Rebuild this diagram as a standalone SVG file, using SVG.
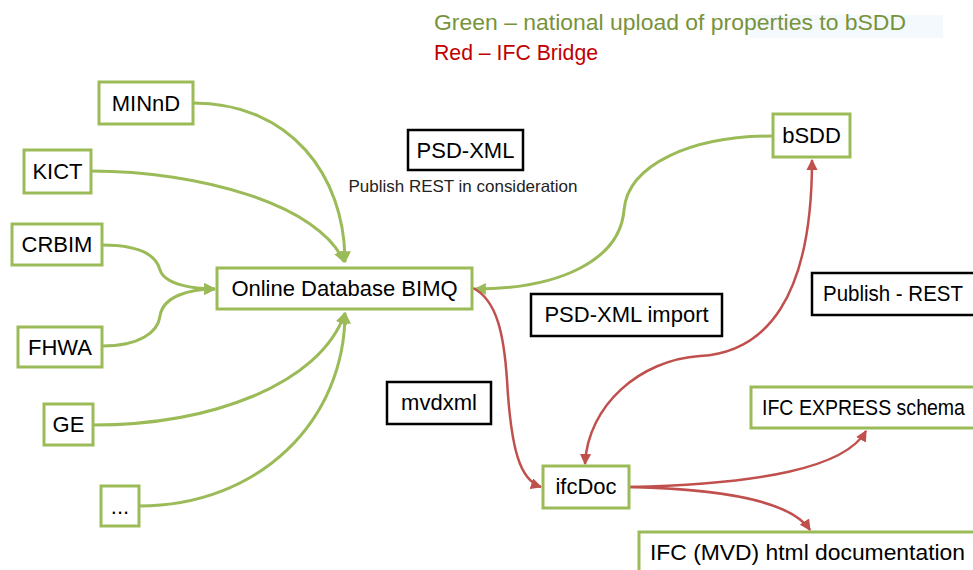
<svg xmlns="http://www.w3.org/2000/svg" width="973" height="570" viewBox="0 0 973 570">
<style>
.g{fill:#fff;stroke:#9BBB59;stroke-width:3}
.k{fill:#fff;stroke:#000;stroke-width:2.5}
.t{font-family:"Liberation Sans",Arial,sans-serif;font-size:22px;fill:#000}
.c{text-anchor:middle}
.cg{fill:none;stroke:#9BBB59;stroke-width:3}
.cr{fill:none;stroke:#C0504D;stroke-width:2.5}
</style>
<defs>
<marker id="ag" viewBox="0 0 10 10" refX="9" refY="5" markerWidth="4" markerHeight="4" orient="auto-start-reverse"><path d="M0,0L10,5L0,10z" fill="#9BBB59"/></marker>
<marker id="ar" viewBox="0 0 10 10" refX="9" refY="5" markerWidth="4.5" markerHeight="4.5" orient="auto-start-reverse"><path d="M0,0L10,5L0,10z" fill="#C0504D"/></marker>
</defs>
<rect width="973" height="570" fill="#fff"/>
<rect x="750" y="15" width="193" height="23" fill="#f4f9fd"/>
<g id="legend" font-family="'Liberation Sans',Arial,sans-serif" font-size="22">
<text x="434" y="30" fill="#77933C" textLength="472" lengthAdjust="spacingAndGlyphs">Green – national upload of properties to bSDD</text>
<text x="434" y="60" fill="#C00000" textLength="164" lengthAdjust="spacingAndGlyphs">Red – IFC Bridge</text>
</g>
<g id="connectors">
<path class="cg" d="M193,103 C290,103 345,175 345,262" marker-end="url(#ag)"/>
<path class="cg" d="M91,171 C200,171 320,205 344,262" marker-end="url(#ag)"/>
<path class="cg" d="M102,245 C145,245 157,258 160,270 C165,285 195,289 215,289" marker-end="url(#ag)"/>
<path class="cg" d="M102,346 C140,346 158,332 160,316 C163,296 190,289 215,289" marker-end="url(#ag)"/>
<path class="cg" d="M93,425 C210,425 320,385 345,313" marker-end="url(#ag)"/>
<path class="cg" d="M139,506 C260,506 345,420 345,313" marker-end="url(#ag)"/>
<path class="cg" d="M773,136 C690,136 628,165 624,210 C620,260 560,289 475,289" marker-end="url(#ag)"/>
<path class="cr" d="M473,288 C497,300 504,335 507,380 C511,450 520,480 541,487" marker-end="url(#ar)"/>
<path class="cr" d="M585,464 C588,405 640,360 700,356 C765,352 812,300 812,160" marker-start="url(#ar)" marker-end="url(#ar)"/>
<path class="cr" d="M629,487 C760,484 845,468 866,431" marker-end="url(#ar)"/>
<path class="cr" d="M629,487 C720,489 790,500 810,530" marker-end="url(#ar)"/>
</g>
<g id="minnd"><rect class="g" x="99" y="82" width="94" height="42"/><text class="t c" x="146" y="111">MINnD</text></g>
<g id="kict"><rect class="g" x="24" y="150" width="67" height="43"/><text class="t c" x="57.5" y="179">KICT</text></g>
<g id="crbim"><rect class="g" x="12" y="224" width="90" height="41"/><text class="t c" x="57" y="252">CRBIM</text></g>
<g id="fhwa"><rect class="g" x="18" y="327" width="84" height="40"/><text class="t c" x="60" y="355">FHWA</text></g>
<g id="ge"><rect class="g" x="44" y="404" width="49" height="41"/><text class="t c" x="68.5" y="432">GE</text></g>
<g id="more"><rect class="g" x="101" y="486" width="38" height="40"/><text class="t c" x="120" y="514">...</text></g>
<g id="bimq"><rect class="g" x="217" y="268" width="255" height="41"/><text class="t c" x="344.5" y="296">Online Database BIMQ</text></g>
<g id="psdxml"><rect class="k" x="408" y="130" width="115" height="40"/><text class="t c" x="465.5" y="158">PSD-XML</text>
<text x="463" y="192" text-anchor="middle" font-family="'Liberation Sans',Arial,sans-serif" font-size="16.5" fill="#222" textLength="229" lengthAdjust="spacingAndGlyphs">Publish REST in consideration</text></g>
<g id="bsdd"><rect class="g" x="773" y="114" width="77" height="43"/><text class="t c" x="811.5" y="143">bSDD</text></g>
<g id="psdimport"><rect class="k" x="531" y="294" width="191" height="42"/><text class="t c" x="626.5" y="322">PSD-XML import</text></g>
<g id="publishrest"><rect class="k" x="812" y="273" width="170" height="42"/><text class="t" x="823" y="301" textLength="140" lengthAdjust="spacingAndGlyphs">Publish - REST</text></g>
<g id="mvdxml"><rect class="k" x="387" y="382" width="104" height="42"/><text class="t c" x="439" y="410">mvdxml</text></g>
<g id="express"><rect class="g" x="751" y="387" width="230" height="41"/><text class="t" x="762" y="415" textLength="203" lengthAdjust="spacingAndGlyphs">IFC EXPRESS schema</text></g>
<g id="ifcdoc"><rect class="g" x="543" y="466" width="86" height="42"/><text class="t c" x="586" y="494">ifcDoc</text></g>
<g id="htmldoc"><rect class="g" x="639" y="532" width="345" height="45"/><text class="t" x="650" y="560" textLength="315" lengthAdjust="spacingAndGlyphs">IFC (MVD) html documentation</text></g>
</svg>
